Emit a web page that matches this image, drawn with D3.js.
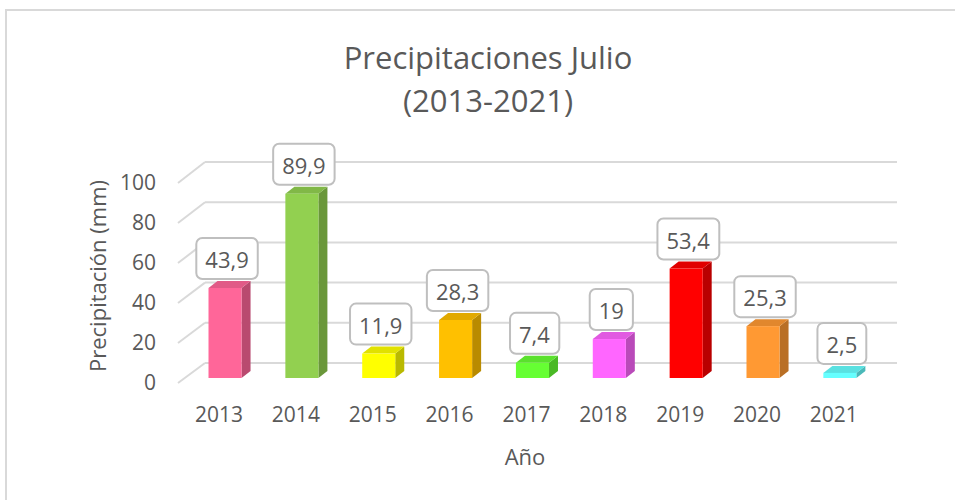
<!DOCTYPE html>
<html>
<head>
<meta charset="utf-8">
<script src="https://cdn.jsdelivr.net/npm/d3@7"></script>
<style>
  body { margin: 0; background: #fff; }
  text { font-family: "Open Sans", "Noto Sans", sans-serif; fill: #595959; }
</style>
</head>
<body>
<div id="chart"></div>
<script>
var svgWidth = 955;
var svgHeight = 500;

// data
var years = ["2013", "2014", "2015", "2016", "2017", "2018", "2019", "2020", "2021"];
var rainfall = [43.9, 89.9, 11.9, 28.3, 7.4, 19, 53.4, 25.3, 2.5];
var barColors = ["#ff6699", "#92d050", "#ffff00", "#ffc000", "#66ff33", "#ff66ff", "#ff0000", "#ff9933", "#66ffff"];
var yTicks = [0, 20, 40, 60, 80, 100];

var data = years.map(function(y, i) {
  return { year: y, value: rainfall[i], color: barColors[i] };
});

var svg = d3.select("#chart")
  .append("svg")
  .attr("width", svgWidth)
  .attr("height", svgHeight);

// chart border
svg.append("rect")
  .attr("x", 6).attr("y", 10)
  .attr("width", 970).attr("height", 520)
  .attr("fill", "none")
  .attr("stroke", "#d9d9d9")
  .attr("stroke-width", 2);

// 3d planes: front edge, back wall, and the plane the bars sit on
var yFront = d3.scaleLinear().domain([0, 100]).range([383, 183]);
var yBack = d3.scaleLinear().domain([0, 100]).range([363, 162]);
var yBar = d3.scaleLinear().domain([0, 100]).range([378, 173]);
var frontX = 178, backX = 205, wallRight = 897;

var x = d3.scaleBand().domain(years).range([186.6, 878.3]);
var barW = x.bandwidth() * 0.43;
var depthX = 9, depthY = -7;

// gridlines
var grid = svg.append("g");
grid.selectAll(".diag")
  .data(yTicks)
  .enter()
  .append("line")
  .attr("x1", frontX).attr("y1", d => yFront(d))
  .attr("x2", backX).attr("y2", d => yBack(d))
  .attr("stroke", "#d9d9d9").attr("stroke-width", 2);
grid.selectAll(".wall")
  .data(yTicks)
  .enter()
  .append("line")
  .attr("x1", backX).attr("y1", d => yBack(d))
  .attr("x2", wallRight).attr("y2", d => yBack(d))
  .attr("stroke", "#d9d9d9").attr("stroke-width", 2);

// y axis labels
var leftAxis = d3.axisLeft(yFront).tickValues(yTicks).tickSize(0).tickPadding(22);
var yAxisG = svg.append("g")
  .attr("transform", `translate(${frontX}, 0)`)
  .call(leftAxis);
yAxisG.select(".domain").remove();
yAxisG.selectAll("text")
  .style("font-size", "21px")
  .attr("fill", "#595959");

// bars
var bars = svg.selectAll(".bar")
  .data(data)
  .enter()
  .append("g");

function faceX(d) { return x(d.year) + x.bandwidth() / 2 - barW / 2; }

// side face
bars.append("path")
  .attr("d", function(d) {
    var x0 = faceX(d) + barW, top = yBar(d.value), base = yBar(0);
    return `M${x0},${top} L${x0 + depthX},${top + depthY} L${x0 + depthX},${base + depthY} L${x0},${base} Z`;
  })
  .attr("fill", d => d3.color(d.color).darker(0.9));

// top face
bars.append("path")
  .attr("d", function(d) {
    var x0 = faceX(d), top = yBar(d.value);
    return `M${x0},${top} L${x0 + depthX},${top + depthY} L${x0 + barW + depthX},${top + depthY} L${x0 + barW},${top} Z`;
  })
  .attr("fill", d => d3.color(d.color).darker(0.35));

// front face
bars.append("rect")
  .attr("x", d => faceX(d))
  .attr("y", d => yBar(d.value))
  .attr("width", barW)
  .attr("height", d => yBar(0) - yBar(d.value))
  .attr("fill", d => d.color);

// data labels
var fmt = d => String(d).replace(".", ",");
var labels = svg.selectAll(".lbl")
  .data(data)
  .enter()
  .append("g");
labels.append("text")
  .attr("x", d => x(d.year) + x.bandwidth() / 2 + 2)
  .attr("y", d => yBar(d.value) - 29)
  .attr("text-anchor", "middle")
  .attr("dominant-baseline", "central")
  .style("font-size", "22px")
  .text(d => fmt(d.value));
labels.each(function(d) {
  var t = d3.select(this).select("text");
  var bb = t.node().getBBox();
  d3.select(this).insert("rect", "text")
    .attr("x", bb.x - 9)
    .attr("y", yBar(d.value) - 50)
    .attr("width", bb.width + 18)
    .attr("height", 41)
    .attr("rx", 6)
    .attr("fill", "#fff")
    .attr("stroke", "#bfbfbf")
    .attr("stroke-width", 2);
});

// category labels
svg.selectAll(".cat")
  .data(years)
  .enter()
  .append("text")
  .attr("x", d => x(d) + x.bandwidth() / 2 - 6)
  .attr("y", 414)
  .attr("text-anchor", "middle")
  .attr("dominant-baseline", "central")
  .style("font-size", "21px")
  .text(d => d);

// title
svg.append("text")
  .attr("x", 488).attr("y", 57)
  .attr("text-anchor", "middle")
  .attr("dominant-baseline", "central")
  .style("font-size", "31px")
  .text("Precipitaciones Julio");
svg.append("text")
  .attr("x", 488).attr("y", 100)
  .attr("text-anchor", "middle")
  .attr("dominant-baseline", "central")
  .style("font-size", "31px")
  .text("(2013-2021)");

// axis titles
svg.append("text")
  .attr("transform", "translate(97, 276) rotate(-90)")
  .attr("text-anchor", "middle")
  .attr("dominant-baseline", "central")
  .style("font-size", "22px")
  .text("Precipitación (mm)");
svg.append("text")
  .attr("x", 525).attr("y", 456)
  .attr("text-anchor", "middle")
  .attr("dominant-baseline", "central")
  .style("font-size", "22px")
  .text("Año");
</script>
</body>
</html>
